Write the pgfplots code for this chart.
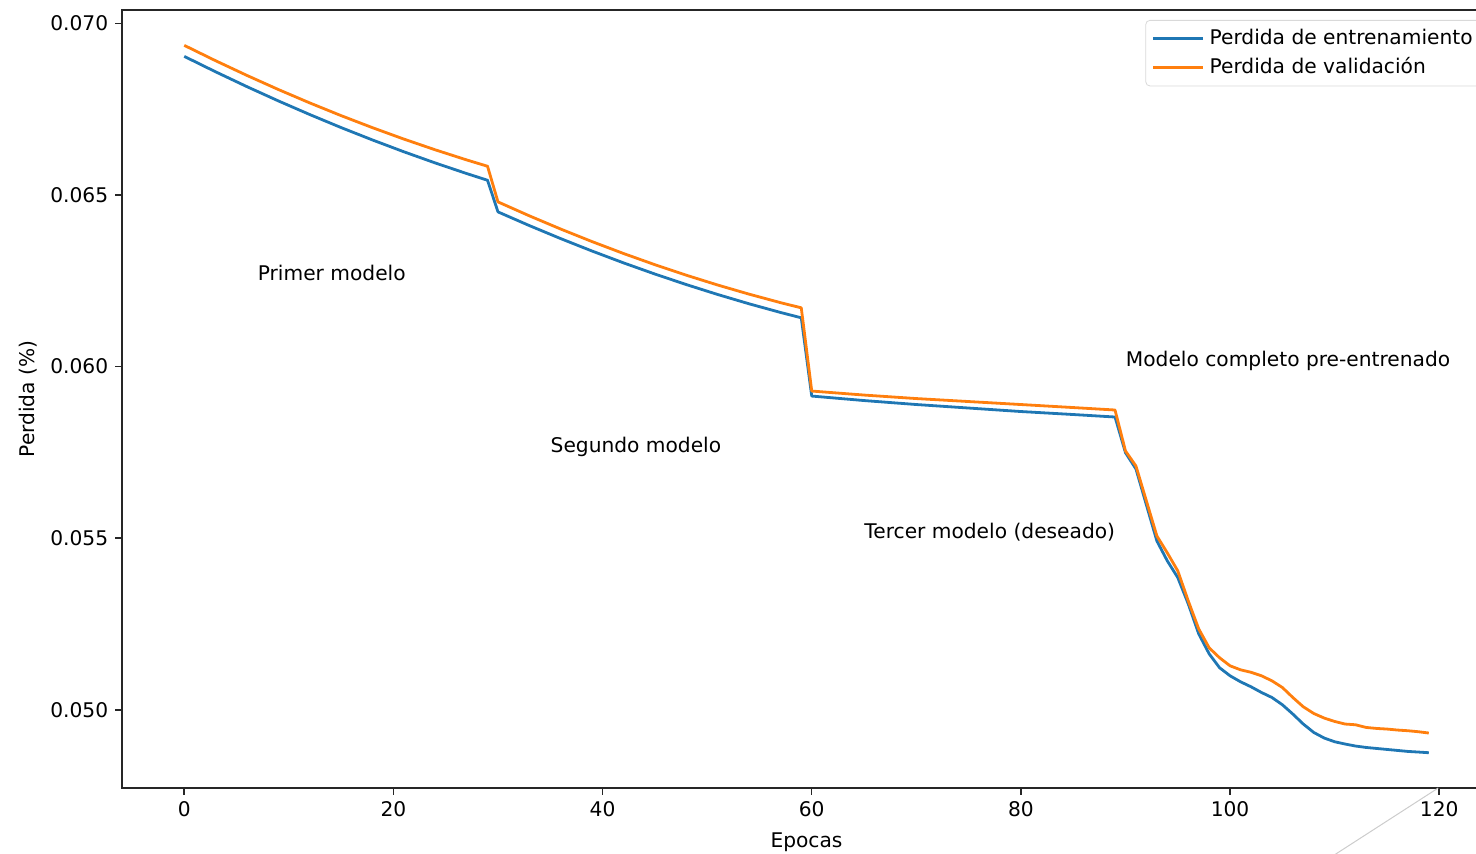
\documentclass[border=0pt]{standalone}
\usepackage{pgfplots}
\pgfplotsset{compat=1.18}
\usepackage{fontspec}
\setmainfont{DejaVu Sans}
\definecolor{tabblue}{HTML}{1F77B4}
\definecolor{taborange}{HTML}{FF7F0E}
\begin{document}
\begin{tikzpicture}[font=\fontsize{10.1pt}{12pt}\selectfont]
\begin{axis}[
  name=ax,
  scale only axis,
  width=684.5pt, height=389pt,
  xmin=-5.95, xmax=124.95,
  ymin=0.04772, ymax=0.07039,
  xtick={0,20,40,60,80,100,120},
  ytick={0.050,0.055,0.060,0.065,0.070},
  scaled y ticks=false,
  yticklabel style={/pgf/number format/.cd, fixed, fixed zerofill, precision=3},
  /pgf/number format/assume math mode=true,
  tick align=outside,
  xtick pos=bottom, ytick pos=left,
  major tick length=3.4pt,
  axis line style={line width=0.75pt, black!85},
  every tick/.style={line width=0.75pt, black!85},
  clip=false,
  xlabel={Epocas},
  ylabel={Perdida (\%)},
  xlabel style={at={(axis description cs:0.5,0)}, anchor=center, yshift=-27pt},
  ylabel style={at={(axis description cs:-0.0687,0.5)}, anchor=center},
  legend style={at={(1,1)}, anchor=north east, xshift=-3.5pt, yshift=-5pt,
    draw=black!15, rounded corners=2pt, fill=white,
    inner xsep=3pt, inner ysep=2pt,
    nodes={inner sep=2.5pt, anchor=west}},
  legend cell align=left,
  legend image code/.code={\draw[#1] (0pt,0pt) -- (21pt,0pt); \path (0pt,0pt) -- (25pt,0pt);},
]
\addplot[tabblue, line width=1.4pt, line join=round] coordinates {
(0,0.069039) (3,0.068589) (6,0.068156) (9,0.067741) (12,0.067344) (15,0.066964) (18,0.066603) (21,0.066259) (24,0.065933) (27,0.065625) (29,0.065429)
(30,0.064507) (33,0.064108) (36,0.063728) (39,0.063366) (42,0.063022) (45,0.062697) (48,0.062390) (51,0.062101) (54,0.061830) (57,0.061578) (59,0.061421)
(60,0.059141) (65,0.059010) (70,0.058894) (75,0.058792) (80,0.058690) (85,0.058603) (89,0.058530)
(90,0.057490) (91,0.057016) (92,0.055968) (93,0.054920) (94,0.054338) (95,0.053852) (96,0.053086) (97,0.052213) (98,0.051630) (99,0.051223)
(100,0.050990) (101,0.050815) (102,0.050670) (103,0.050504) (104,0.050358) (105,0.050146) (106,0.049875) (107,0.049584) (108,0.049339) (109,0.049176)
(110,0.049068) (111,0.049001) (112,0.048943) (113,0.048902) (114,0.048873) (115,0.048844) (116,0.048815) (117,0.048786) (118,0.048768) (119,0.048748)
};
\addlegendentry{Perdida de entrenamiento}
\addplot[taborange, line width=1.4pt, line join=round] coordinates {
(0,0.069360) (3,0.068912) (6,0.068483) (9,0.068073) (12,0.067683) (15,0.067312) (18,0.066961) (21,0.066629) (24,0.066316) (27,0.066022) (29,0.065837)
(30,0.064798) (33,0.064392) (36,0.064007) (39,0.063641) (42,0.063295) (45,0.062969) (48,0.062663) (51,0.062377) (54,0.062111) (57,0.061864) (59,0.061712)
(60,0.059287) (65,0.059170) (70,0.059068) (75,0.058981) (80,0.058894) (85,0.058806) (89,0.058734)
(90,0.057540) (91,0.057103) (92,0.056084) (93,0.055066) (94,0.054571) (95,0.054047) (96,0.053173) (97,0.052358) (98,0.051805) (99,0.051514)
(100,0.051281) (101,0.051164) (102,0.051092) (103,0.050990) (104,0.050844) (105,0.050649) (106,0.050358) (107,0.050087) (108,0.049892) (109,0.049758)
(110,0.049659) (111,0.049584) (112,0.049563) (113,0.049485) (114,0.049456) (115,0.049438) (116,0.049409) (117,0.049389) (118,0.049360) (119,0.049322)
};
\addlegendentry{Perdida de validación}
\node[anchor=base west, inner sep=0pt] at (axis cs:7,0.0625) {Primer modelo};
\node[anchor=base west, inner sep=0pt] at (axis cs:35,0.0575) {Segundo modelo};
\node[anchor=base west, inner sep=0pt] at (axis cs:65,0.055) {Tercer modelo (deseado)};
\node[anchor=base west, inner sep=0pt] at (axis cs:90,0.060) {Modelo completo pre-entrenado};
\draw[black!20, line width=0.5pt] (axis cs:119.9,0.04772) -- (axis cs:102.9,0.044381);
\end{axis}
\pgfresetboundingbox
\useasboundingbox ([xshift=-61pt,yshift=-32.5pt]ax.south west) rectangle ([xshift=-7.5pt,yshift=5pt]ax.north east);
\end{tikzpicture}
\end{document}
